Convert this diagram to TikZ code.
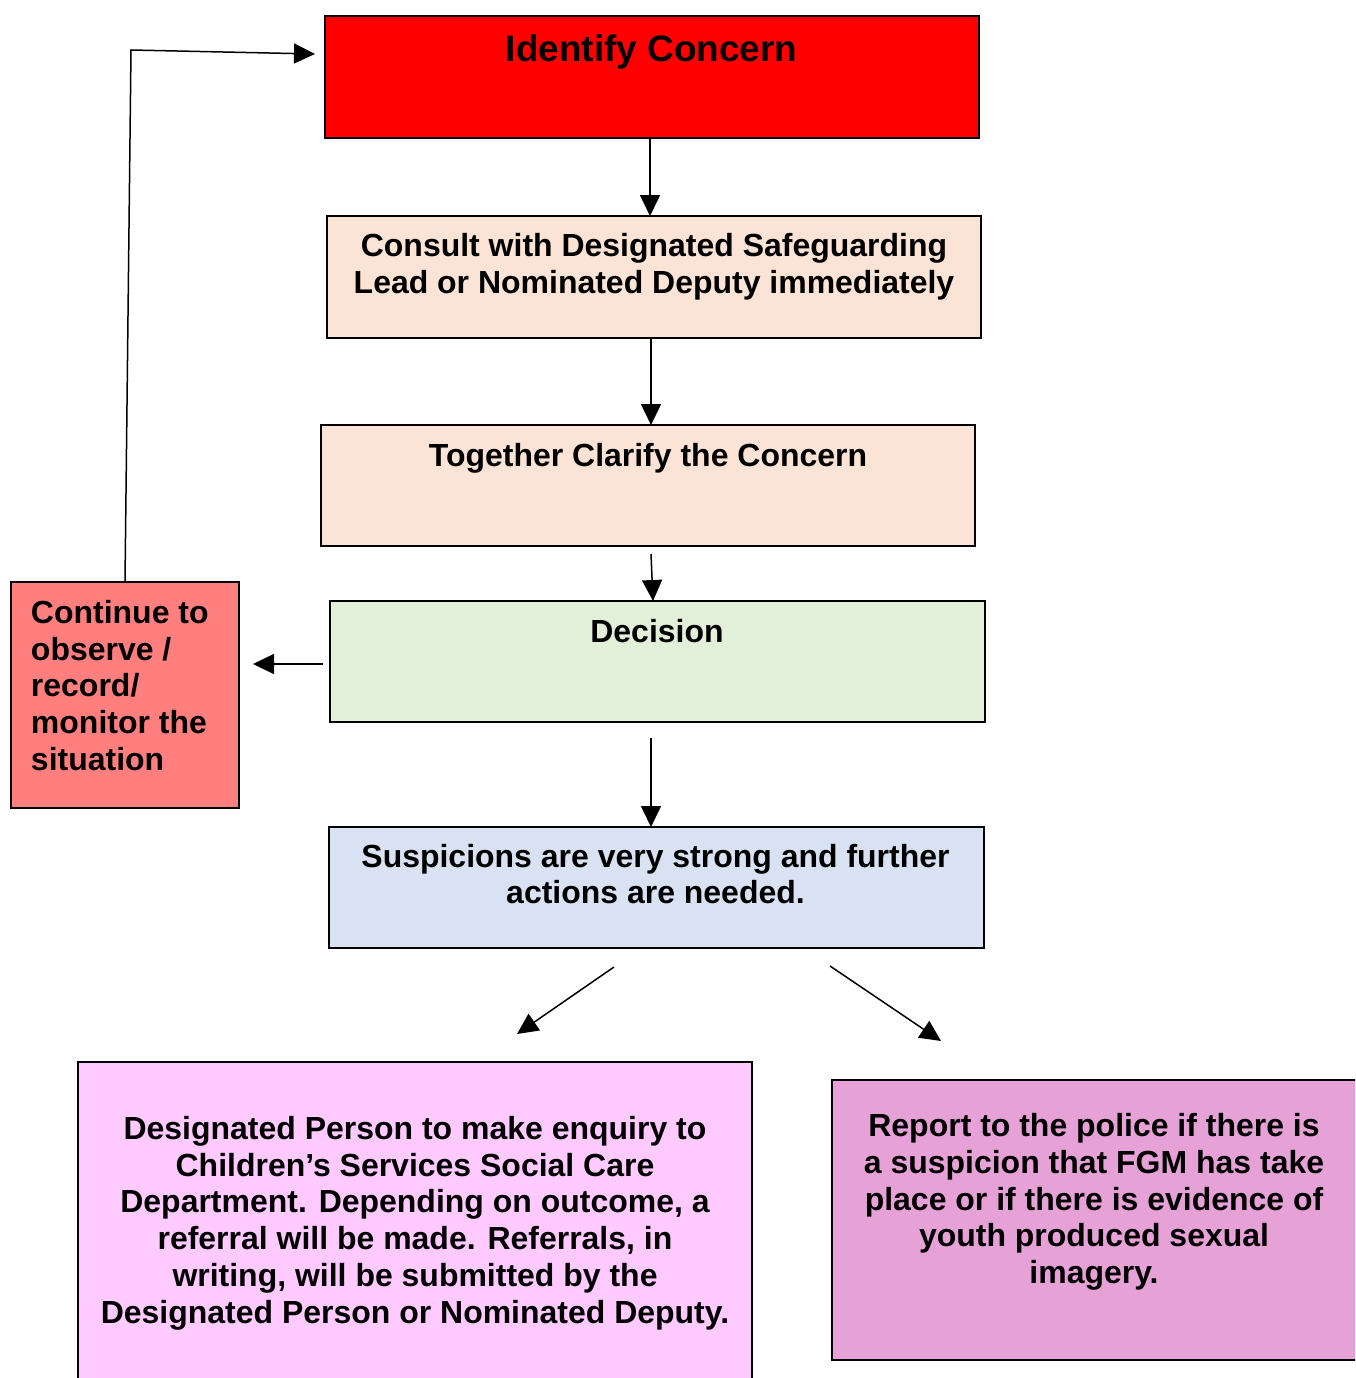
\documentclass[tikz,border=0pt]{standalone}
\usepackage{fontspec}
\setmainfont{Liberation Sans}
\usetikzlibrary{arrows.meta}
\definecolor{cpeach}{HTML}{FBE4D5}
\definecolor{cgreen}{HTML}{E2EFD9}
\definecolor{csalmon}{HTML}{FF7F7F}
\definecolor{cblue}{HTML}{D9E2F3}
\definecolor{cpink}{HTML}{FFCAFF}
\definecolor{cmauve}{HTML}{E6A2D7}
\begin{document}
\begin{tikzpicture}[x=0.02cm,y=-0.02cm,
  box/.style={draw=black, line width=0.035cm, inner sep=0pt, outer sep=0pt},
  txt/.style={inner sep=0pt, outer sep=0pt, font=\fontsize{18.2}{20.9}\selectfont\bfseries, align=center},
  arr/.style={line width=0.03cm, -{Triangle[length=0.42cm,width=0.4cm]}}]
\useasboundingbox (0,0) rectangle (1355,1378);
\fill[white] (0,0) rectangle (1355,1378);
\clip (0,0) rectangle (1355,1378);
% boxes
\node[box, fill=red, minimum width=13.08cm, minimum height=2.44cm] (b1) at (652,77) {};
\node[box, fill=cpeach, minimum width=13.08cm, minimum height=2.44cm] (b2) at (654,277) {};
\node[box, fill=cpeach, minimum width=13.08cm, minimum height=2.42cm] (b3) at (648,485.5) {};
\node[box, fill=cgreen, minimum width=13.10cm, minimum height=2.42cm] (b4) at (657.5,661.5) {};
\node[box, fill=csalmon, minimum width=4.56cm, minimum height=4.52cm] (b5) at (125,695) {};
\node[box, fill=cblue, minimum width=13.10cm, minimum height=2.42cm] (b6) at (656.5,887.5) {};
\node[box, fill=cpink, minimum width=13.48cm, minimum height=7.0cm] (b7) at (415,1237) {};
\node[box, fill=cmauve, minimum width=10.7cm, minimum height=5.6cm] (b8) at (1099.5,1220) {};
% texts
\node[txt, anchor=base, font=\fontsize{21}{24}\selectfont\bfseries] (t1) at (651.5,62) {Identify Concern};
\node[txt] (t2) at (654,267) {Consult with Designated Safeguarding\\Lead or Nominated Deputy immediately};
\node[txt, anchor=base] (t3) at (648,466.5) {Together Clarify the Concern};
\node[txt, anchor=base] (t4) at (657,642.5) {Decision};
\node[txt, align=left, anchor=west] (t5) at (31,685.5) {Continue to\\observe /\\record/\\monitor the\\situation};
\node[txt] (t6) at (655.5,874) {Suspicions are very strong and further\\actions are needed.};
\node[txt] (t7) at (415,1223) {Designated Person to make enquiry to\\Children’s Services Social Care\\Department. Depending on outcome, a\\referral will be made. Referrals, in\\writing, will be submitted by the\\Designated Person or Nominated Deputy.};
\node[txt] (t8) at (1094,1202) {Report to the police if there is\\a suspicion that FGM has take\\place or if there is evidence of\\youth produced sexual\\imagery.};
% free connector ends
\coordinate (c3) at (651,554);
\coordinate (c4) at (651,738);
\coordinate (c5a) at (323,664);
\coordinate (c5b) at (253,664);
\coordinate (c6a) at (131,50);
\coordinate (c6b) at (315,54);
\coordinate (c7a) at (614,967);
\coordinate (c7b) at (517,1034);
\coordinate (c8a) at (830,966);
\coordinate (c8b) at (941,1041);
% connectors
\draw[arr] (650,0 |- b1.south) -- (650,0 |- b2.north);
\draw[arr] (651,0 |- b2.south) -- (651,0 |- b3.north);
\draw[arr] (c3) -- (653,0 |- b4.north);
\draw[arr] (c4) -- (651,0 |- b6.north);
\draw[arr] (c5a) -- (c5b);
\draw[arr] (125,0 |- b5.north) -- (c6a) -- (c6b);
\draw[arr] (c7a) -- (c7b);
\draw[arr] (c8a) -- (c8b);
\end{tikzpicture}
\end{document}
